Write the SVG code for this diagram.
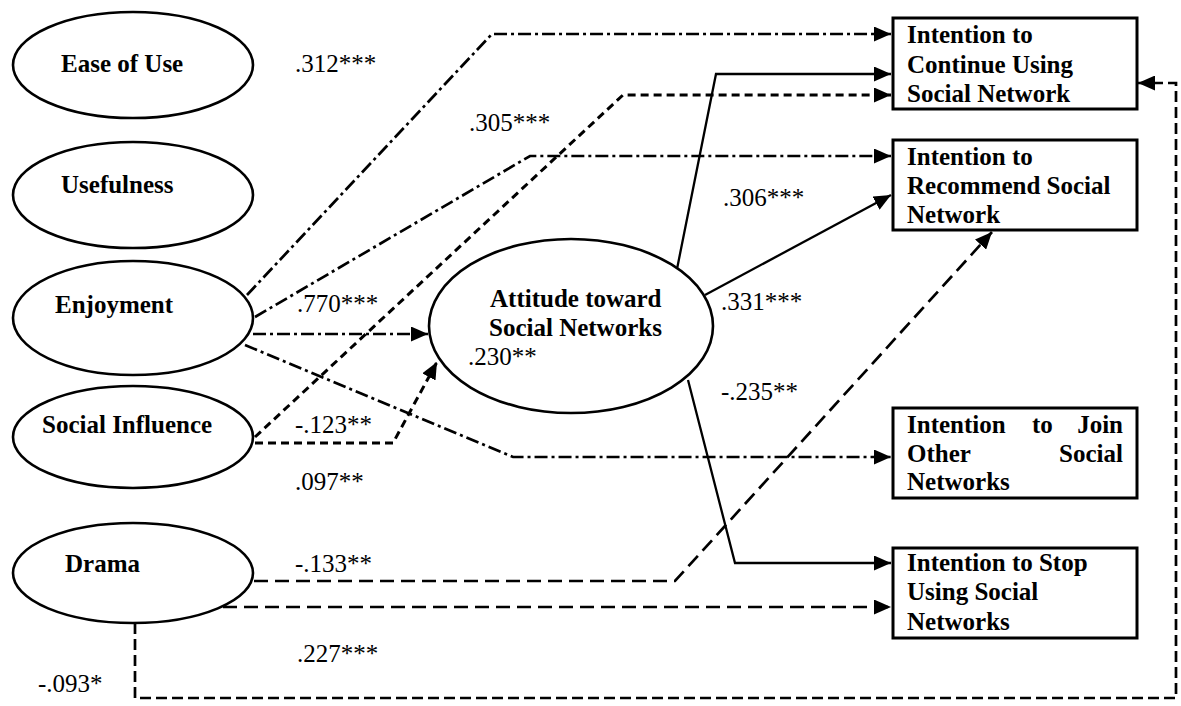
<svg xmlns="http://www.w3.org/2000/svg" width="1181" height="706" viewBox="0 0 1181 706">
  <style>
    .node { fill: #fff; stroke: #000; stroke-width: 2.6; }
    .box { fill: #fff; stroke: #000; stroke-width: 3; }
    .name { font-family: "Liberation Serif", "Times New Roman", serif; font-weight: bold; font-size: 25px; fill: #000; }
    .coef { font-family: "Liberation Serif", "Times New Roman", serif; font-size: 25px; fill: #000; }
    .edge { fill: none; stroke: #000; stroke-width: 2.7; }
    .solid { stroke-width: 2.3; }
    .dashdot { stroke-dasharray: 13 4 3 4; }
    .short { stroke-dasharray: 8 5; stroke-width: 3; }
    .long { stroke-dasharray: 14 7; }
    .loop { stroke-dasharray: 11 5; }
  </style>
  <defs>
    <marker id="arrow" markerUnits="userSpaceOnUse" markerWidth="17" markerHeight="15" refX="17" refY="7.5" orient="auto">
      <path d="M0,0 L17,7.5 L0,15 z" fill="#000"/>
    </marker>
  </defs>
  <rect width="1181" height="706" fill="#fff"/>

  <!-- connectors -->
  <g id="connectors">
    <!-- Enjoyment paths -->
    <path class="edge dashdot" d="M247,295 L492,34 L891,34" marker-end="url(#arrow)"/>
    <path class="edge dashdot" d="M255,317 L530,156 L891,156" marker-end="url(#arrow)"/>
    <path class="edge dashdot" d="M253,334 L428,334" marker-end="url(#arrow)"/>
    <path class="edge dashdot" d="M245,345 L513,457 L891,457" marker-end="url(#arrow)"/>
    <!-- Social Influence paths -->
    <path class="edge short" d="M255,437 L623,95 L891,95" marker-end="url(#arrow)"/>
    <path class="edge short" d="M255,443 L393,443 L437,362" marker-end="url(#arrow)"/>
    <!-- Attitude paths -->
    <path class="edge solid" d="M676,274 L716,74 L891,74" marker-end="url(#arrow)"/>
    <path class="edge solid" d="M705,295 L891,195" marker-end="url(#arrow)"/>
    <path class="edge solid" d="M688,380 L735,563 L891,563" marker-end="url(#arrow)"/>
    <!-- Drama paths -->
    <path class="edge long" d="M254,581 L675,581 L992,232" marker-end="url(#arrow)"/>
    <path class="edge long" d="M223,607 L891,607" marker-end="url(#arrow)"/>
    <path class="edge loop" d="M135,623 L135,698 L1176,698 L1176,83 L1138,83" marker-end="url(#arrow)"/>
  </g>

  <!-- predictor constructs -->
  <g id="ease-of-use">
    <ellipse class="node" cx="133" cy="65" rx="120" ry="53"/>
    <text class="name" x="61" y="72">Ease of Use</text>
  </g>
  <g id="usefulness">
    <ellipse class="node" cx="133" cy="195" rx="120" ry="53"/>
    <text class="name" x="61" y="193">Usefulness</text>
  </g>
  <g id="enjoyment">
    <ellipse class="node" cx="133" cy="318" rx="120" ry="57"/>
    <text class="name" x="55" y="313">Enjoyment</text>
  </g>
  <g id="social-influence">
    <ellipse class="node" cx="133" cy="437" rx="120" ry="51"/>
    <text class="name" x="42" y="433">Social Influence</text>
  </g>
  <g id="drama">
    <ellipse class="node" cx="133" cy="573" rx="120" ry="50"/>
    <text class="name" x="65" y="572">Drama</text>
  </g>

  <!-- mediator -->
  <g id="attitude">
    <ellipse class="node" cx="571" cy="326" rx="142" ry="87"/>
    <text class="name" x="490" y="307">Attitude toward</text>
    <text class="name" x="489" y="336">Social Networks</text>
  </g>

  <!-- outcome intentions -->
  <g id="continue-using">
    <rect class="box" x="893" y="18" width="244" height="91"/>
    <text class="name" x="907" y="43">Intention to</text>
    <text class="name" x="907" y="73">Continue Using</text>
    <text class="name" x="907" y="102">Social Network</text>
  </g>
  <g id="recommend">
    <rect class="box" x="893" y="140" width="244" height="90"/>
    <text class="name" x="907" y="165">Intention to</text>
    <text class="name" x="907" y="194">Recommend Social</text>
    <text class="name" x="907" y="223">Network</text>
  </g>
  <g id="join-other">
    <rect class="box" x="893" y="408" width="244" height="90"/>
    <text class="name" x="907" y="433">Intention</text>
    <text class="name" x="1032" y="433">to</text>
    <text class="name" x="1123" y="433" text-anchor="end">Join</text>
    <text class="name" x="907" y="462">Other</text>
    <text class="name" x="1123" y="462" text-anchor="end">Social</text>
    <text class="name" x="907" y="490">Networks</text>
  </g>
  <g id="stop-using">
    <rect class="box" x="893" y="548" width="244" height="90"/>
    <text class="name" x="907" y="571">Intention to Stop</text>
    <text class="name" x="907" y="600">Using Social</text>
    <text class="name" x="907" y="630">Networks</text>
  </g>

  <!-- path coefficients -->
  <g id="coefficients">
    <text class="coef" x="295" y="72">.312***</text>
    <text class="coef" x="469" y="131">.305***</text>
    <text class="coef" x="723" y="206">.306***</text>
    <text class="coef" x="297" y="312">.770***</text>
    <text class="coef" x="721" y="310">.331***</text>
    <text class="coef" x="468" y="365">.230**</text>
    <text class="coef" x="721" y="400">-.235**</text>
    <text class="coef" x="295" y="433">-.123**</text>
    <text class="coef" x="295" y="490">.097**</text>
    <text class="coef" x="295" y="572">-.133**</text>
    <text class="coef" x="297" y="662">.227***</text>
    <text class="coef" x="38" y="692">-.093*</text>
  </g>
</svg>
